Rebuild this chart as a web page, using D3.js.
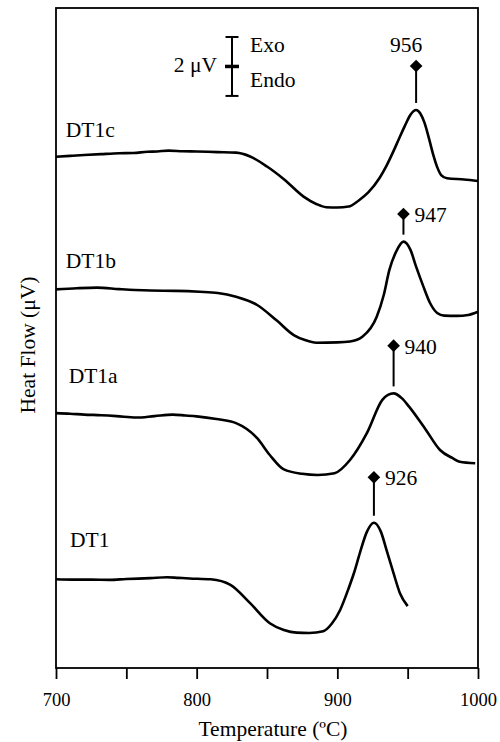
<!DOCTYPE html>
<html>
<head>
<meta charset="utf-8">
<script src="https://cdn.jsdelivr.net/npm/d3@7"></script>
<style>
  body { margin: 0; background: #fff; }
  svg text { font-family: "Liberation Serif", "Times New Roman", serif; fill: #000; }
</style>
</head>
<body>
<svg id="chart" width="500" height="742"></svg>
<script>
// DTA traces, heat flow in uV (curves stacked with offsets), temperature in degC
var seriesNames = ["DT1c", "DT1b", "DT1a", "DT1"];

var dt1c = [[700,17.35],[710,17.38],[720,17.41],[732,17.44],[745,17.47],[755,17.48],[765,17.52],[772,17.53],[780,17.56],[790,17.54],[800,17.53],[808,17.52],[815,17.51],[828,17.49],[838,17.36],[850,17.02],[862,16.59],[876,16.00],[885,15.75],[892,15.64],[900,15.63],[908,15.66],[915,15.86],[922,16.14],[930,16.63],[935,17.05],[940,17.55],[944,17.98],[948,18.40],[952,18.78],[956,18.94],[959,18.82],[962,18.50],[965,18.00],[968,17.45],[971,17.00],[974,16.72],[978,16.62],[990,16.58],[1000,16.53]];

var dt1b = [[700,12.85],[715,12.89],[729,12.91],[745,12.86],[756,12.83],[767,12.81],[785,12.80],[802,12.77],[815,12.73],[828,12.60],[843,12.32],[857,11.79],[869,11.30],[877,11.13],[885,11.04],[900,11.05],[909,11.08],[918,11.25],[928,11.92],[933,12.66],[937,13.51],[942,14.15],[947,14.47],[952,14.19],[956,13.62],[961,12.97],[966,12.38],[971,12.05],[976,11.96],[985,11.95],[993,11.98],[1000,12.09]];

var dt1a = [[700,8.65],[710,8.63],[720,8.60],[732,8.58],[743,8.55],[757,8.50],[770,8.55],[783,8.60],[792,8.57],[800,8.54],[814,8.45],[828,8.31],[843,7.80],[852,7.23],[862,6.74],[875,6.59],[886,6.55],[898,6.61],[909,7.06],[921,7.97],[932,9.10],[936,9.27],[940,9.32],[946,9.15],[951,8.87],[963,8.08],[973,7.40],[982,7.12],[987,7.00],[998,6.95]];

var dt1 = [[700,3.01],[712,3.00],[725,3.00],[738,2.99],[750,3.02],[767,3.05],[779,3.08],[787,3.06],[795,3.04],[810,3.01],[824,2.82],[838,2.20],[852,1.52],[862,1.29],[871,1.20],[880,1.19],[890,1.25],[896,1.50],[902,1.97],[908,2.70],[912,3.25],[916,3.90],[921,4.62],[926,4.93],[931,4.62],[935,4.00],[940,3.21],[944.5,2.54],[950,2.10]];

var seriesData = [dt1c, dt1b, dt1a, dt1];
var peakTemps = [956, 947, 940, 926];
var markerLevels = [20.43, 15.41, 10.94, 6.47];   // diamond height, uV
var nameLabelAt = [[707, 18.02], [707, 13.57], [709, 9.67], [710, 4.11]];

var xTicks = [700, 750, 800, 850, 900, 950, 1000];
var xTickLabels = [700, 800, 900, 1000];
var scaleBarUV = 2;

var svg = d3.select("#chart"),
    margin = {top: 8, right: 22, bottom: 74, left: 56},
    width = 500 - margin.left - margin.right,
    height = 742 - margin.top - margin.bottom,
    g = svg.append("g").attr("transform", "translate(" + margin.left + "," + margin.top + ")");

var x = d3.scaleLinear().domain([700, 1000]).range([0, width]);
var y = d3.scaleLinear().domain([0, 22.4]).range([height, 0]);

// frame
g.append("rect")
    .attr("width", width).attr("height", height)
    .attr("fill", "none").attr("stroke", "#000").attr("stroke-width", 1.8);

// bottom axis, ticks pointing down
var xAxis = d3.axisBottom(x).tickValues(xTicks).tickSize(11)
    .tickFormat(d => xTickLabels.indexOf(d) >= 0 ? d : "");
var ax = g.append("g").attr("transform", "translate(0," + height + ")").call(xAxis);
ax.select(".domain").remove();
ax.selectAll("line").attr("stroke", "#000").attr("stroke-width", 1.8);
ax.selectAll("text")
    .attr("y", 38).attr("dy", 0)
    .style("font-family", "Liberation Serif, serif").style("font-size", "18.5px");

// axis titles
svg.append("text")
    .attr("x", margin.left + width / 2 + 6).attr("y", 736)
    .attr("text-anchor", "middle").style("font-size", "21.5px")
    .text("Temperature (ºC)");
svg.append("text")
    .attr("transform", "translate(35," + (margin.top + 337) + ") rotate(-90)")
    .attr("text-anchor", "middle").style("font-size", "21.5px")
    .text("Heat Flow (μV)");

// curves
var line = d3.line()
    .x(d => x(d[0])).y(d => y(d[1]))
    .curve(d3.curveMonotoneX);

g.selectAll(".trace")
    .data(seriesData).enter()
    .append("path")
    .attr("class", "trace")
    .attr("d", line)
    .attr("fill", "none").attr("stroke", "#000")
    .attr("stroke-width", 2.6).attr("stroke-linejoin", "round");

// curve names
g.selectAll(".name")
    .data(seriesNames).enter()
    .append("text")
    .attr("x", (d, i) => x(nameLabelAt[i][0]))
    .attr("y", (d, i) => y(nameLabelAt[i][1]))
    .style("font-size", "21.5px")
    .text(d => d);

// peak markers: stem + diamond + temperature
var diamond = d3.symbol().type(d3.symbolSquare).size(80);
peakTemps.forEach(function(t, i) {
    var peak = d3.max(seriesData[i], d => d[1]);
    var px = x(t), py = y(markerLevels[i]);
    g.append("line")
        .attr("x1", px).attr("x2", px)
        .attr("y1", py).attr("y2", y(peak) - 7)
        .attr("stroke", "#000").attr("stroke-width", 2);
    g.append("path")
        .attr("d", diamond)
        .attr("transform", "translate(" + px + "," + py + ") rotate(45)")
        .attr("fill", "#000");
    var lbl = g.append("text").style("font-size", "21.5px").text(t);
    if (i == 0) {
        lbl.attr("x", px - 10).attr("y", py - 14).attr("text-anchor", "middle");
    } else {
        lbl.attr("x", px + 11).attr("y", py + 8);
    }
});

// 2 uV scale bar with Exo / Endo
var barX = 232 - margin.left,
    barTop = 37 - margin.top,
    barBot = barTop + (y(0) - y(scaleBarUV)),
    barMid = (barTop + barBot) / 2;
var sb = g.append("g").attr("stroke", "#000");
sb.append("line").attr("x1", barX).attr("x2", barX).attr("y1", barTop).attr("y2", barBot).attr("stroke-width", 2);
sb.append("line").attr("x1", barX - 6.5).attr("x2", barX + 6.5).attr("y1", barTop).attr("y2", barTop).attr("stroke-width", 2);
sb.append("line").attr("x1", barX - 6.5).attr("x2", barX + 6.5).attr("y1", barBot).attr("y2", barBot).attr("stroke-width", 2);
sb.append("line").attr("x1", barX - 7).attr("x2", barX + 7).attr("y1", barMid).attr("y2", barMid).attr("stroke-width", 3.5);
g.append("text").attr("x", barX - 15).attr("y", barMid + 6)
    .attr("text-anchor", "end").style("font-size", "21.5px").text("2 μV");
g.append("text").attr("x", barX + 18).attr("y", barMid - 14)
    .style("font-size", "21.5px").text("Exo");
g.append("text").attr("x", barX + 18).attr("y", barMid + 21)
    .style("font-size", "21.5px").text("Endo");
</script>
</body>
</html>
